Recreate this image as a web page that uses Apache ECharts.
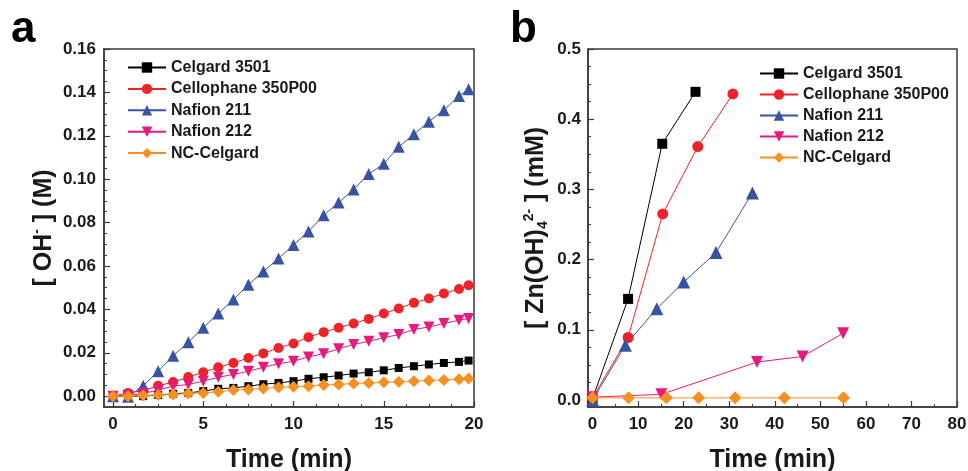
<!DOCTYPE html>
<html>
<head>
<meta charset="utf-8">
<script src="https://cdn.jsdelivr.net/npm/echarts@6/dist/echarts.min.js"></script>
<style>
  html, body { margin: 0; background: #fff; }
  #chart { width: 968px; height: 471px; }
</style>
</head>
<body>
<div id="chart"></div>
<script>
  // series names (same in both panels)
  var names = ['Celgard 3501', 'Cellophane 350P00', 'Nafion 211', 'Nafion 212', 'NC-Celgard']

  // panel a : [OH-] (M) vs time (min)
  var timeA = [0, 0.83, 1.67, 2.5, 3.33, 4.17, 5, 5.83, 6.67, 7.5, 8.33, 9.17, 10, 10.83, 11.67, 12.5, 13.33, 14.17, 15, 15.83, 16.67, 17.5, 18.33, 19.17, 19.7]
  var celgardA = [0, 0, 0, 0.0005, 0.0011, 0.0015, 0.0023, 0.0034, 0.0038, 0.0046, 0.0055, 0.0061, 0.0069, 0.0080, 0.0087, 0.0095, 0.0104, 0.0110, 0.0119, 0.0130, 0.0138, 0.0146, 0.0153, 0.0158, 0.0164]
  var cellophaneA = [0, 0.0015, 0.0025, 0.0048, 0.0065, 0.0088, 0.0110, 0.0133, 0.0153, 0.0176, 0.0197, 0.0222, 0.0243, 0.0272, 0.0295, 0.0315, 0.0335, 0.0356, 0.0381, 0.0404, 0.0430, 0.0450, 0.0473, 0.0494, 0.0511]
  var nafion211A = [0, -0.0003, 0.0048, 0.0115, 0.0186, 0.0249, 0.0315, 0.0381, 0.0445, 0.0513, 0.0575, 0.0635, 0.0697, 0.0759, 0.0834, 0.0892, 0.0953, 0.1024, 0.1071, 0.1149, 0.1207, 0.1265, 0.1318, 0.1383, 0.1415]
  var nafion212A = [0, 0.0003, 0.0012, 0.0028, 0.0046, 0.0054, 0.0069, 0.0087, 0.0100, 0.0115, 0.0133, 0.0149, 0.0161, 0.0181, 0.0196, 0.0218, 0.0238, 0.0253, 0.0269, 0.0284, 0.0307, 0.0319, 0.0335, 0.0350, 0.0358]
  var ncCelgardA = [0, 0, 0.0003, 0.0005, 0.0008, 0.0012, 0.0015, 0.0020, 0.0028, 0.0031, 0.0035, 0.0041, 0.0043, 0.0046, 0.0051, 0.0054, 0.0058, 0.0061, 0.0064, 0.0066, 0.0069, 0.0072, 0.0075, 0.0078, 0.0081]

  // panel b : [Zn(OH)4 2-] (mM) vs time (min)
  var celgardTimeB = [0, 7.8, 15.3, 22.6]
  var celgardB = [0.002, 0.144, 0.365, 0.439]
  var cellophaneTimeB = [0, 7.8, 15.4, 23.1, 30.8]
  var cellophaneB = [0.003, 0.089, 0.265, 0.361, 0.436]
  var nafion211TimeB = [0, 7.2, 14.1, 20.0, 27.1, 35.1]
  var nafion211B = [0, 0.078, 0.130, 0.168, 0.210, 0.295]
  var nafion212TimeB = [0, 15.1, 36.1, 46.1, 55.0]
  var nafion212B = [0.004, 0.008, 0.054, 0.062, 0.095]
  var ncCelgardTimeB = [0, 7.9, 16.2, 23.3, 31.3, 42.1, 55.1]
  var ncCelgardB = [0.003, 0.003, 0.003, 0.003, 0.003, 0.003, 0.003]

  // tick values
  var xTicksA = [0, 5, 10, 15, 20]
  var xMinorA = [1.25, 2.5, 3.75, 6.25, 7.5, 8.75, 11.25, 12.5, 13.75, 16.25, 17.5, 18.75]
  var yTicksA = [0, 0.02, 0.04, 0.06, 0.08, 0.10, 0.12, 0.14, 0.16]
  var yMinorA = [0.005, 0.01, 0.015, 0.025, 0.03, 0.035, 0.045, 0.05, 0.055, 0.065, 0.07, 0.075, 0.085, 0.09, 0.095, 0.105, 0.11, 0.115, 0.125, 0.13, 0.135, 0.145, 0.15, 0.155]
  var xTicksB = [0, 10, 20, 30, 40, 50, 60, 70, 80]
  var xMinorB = [5, 15, 25, 35, 45, 55, 65, 75]
  var yTicksB = [0, 0.1, 0.2, 0.3, 0.4, 0.5]
  var yMinorB = [0.025, 0.05, 0.075, 0.125, 0.15, 0.175, 0.225, 0.25, 0.275, 0.325, 0.35, 0.375, 0.425, 0.45, 0.475]

  // styles
  var colors = ['#000000', '#ee2328', '#3953a4', '#e8197c', '#f7901e']
  var symbols = ['rect', 'circle', 'triangle', 'triangle', 'diamond']
  var rotates = [0, 0, 0, 180, 0]
  var sizeA = [8, 10, 12, 11, 12]
  var sizeB = [10, 11, 13, 12, 13]
  var font = 'Liberation Sans, Arial, sans-serif'
  var ink = '#1a1a1a'
  var frame = '#3a3a3a'

  function pairs (xs, ys) {
    return xs.map(function (x, i) { return [x, ys[i]] })
  }

  function valueAxis (grid, min, max, ticks, digits, margin, name, nameGap, extra) {
    var ax = {
      type: 'value',
      gridIndex: grid,
      min: min,
      max: max,
      name: name,
      nameLocation: 'middle',
      nameGap: nameGap,
      nameTextStyle: { fontFamily: font, fontWeight: 'bold', fontSize: 25, color: ink },
      axisLine: { show: true, onZero: false, lineStyle: { color: frame, width: 1.5 } },
      axisTick: { show: true, inside: true, length: 6, customValues: ticks, lineStyle: { color: frame, width: 1.2 } },
      axisLabel: {
        customValues: ticks,
        margin: margin,
        fontFamily: font,
        fontWeight: 'bold',
        fontSize: 17,
        color: ink,
        formatter: function (v) { return v.toFixed(digits) }
      },
      splitLine: { show: false }
    }
    return Object.assign(ax, extra || {})
  }

  // second axis on the same grid that only draws the short minor ticks
  function minorAxis (grid, min, max, ticks, pos) {
    return {
      type: 'value',
      gridIndex: grid,
      min: min,
      max: max,
      position: pos,
      axisLine: { show: false, onZero: false },
      axisTick: { show: true, inside: true, length: 3, customValues: ticks, lineStyle: { color: frame, width: 1 } },
      axisLabel: { show: false },
      splitLine: { show: false }
    }
  }

  function makeSeries (i, xAxisIndex, data, size) {
    return {
      name: names[i],
      type: 'line',
      xAxisIndex: xAxisIndex,
      yAxisIndex: xAxisIndex,
      data: data,
      symbol: symbols[i],
      symbolRotate: rotates[i],
      symbolSize: size,
      color: colors[i],
      lineStyle: { width: 1, color: colors[i] },
      itemStyle: { color: colors[i] },
      animation: false
    }
  }

  var dataA = [
    pairs(timeA, celgardA),
    pairs(timeA, cellophaneA),
    pairs(timeA, nafion211A),
    pairs(timeA, nafion212A),
    pairs(timeA, ncCelgardA)
  ]
  var dataB = [
    pairs(celgardTimeB, celgardB),
    pairs(cellophaneTimeB, cellophaneB),
    pairs(nafion211TimeB, nafion211B),
    pairs(nafion212TimeB, nafion212B),
    pairs(ncCelgardTimeB, ncCelgardB)
  ]

  var series = []
  dataA.forEach(function (d, i) { series.push(makeSeries(i, 0, d, sizeA[i])) })
  dataB.forEach(function (d, i) { series.push(makeSeries(i, 2, d, sizeB[i])) })

  function legend (left, top, gap) {
    return {
      data: names,
      orient: 'vertical',
      left: left,
      top: top,
      itemWidth: 38,
      itemHeight: 13,
      itemGap: gap,
      selectedMode: false,
      textStyle: { fontFamily: font, fontWeight: 'bold', fontSize: 16, color: ink, lineHeight: 17 }
    }
  }

  var yNameRich = {
    sup: { fontFamily: font, fontWeight: 'bold', fontSize: 14, color: ink, verticalAlign: 'top', lineHeight: 14 },
    sub: { fontFamily: font, fontWeight: 'bold', fontSize: 14, color: ink, verticalAlign: 'bottom', lineHeight: 14 }
  }

  var chart = echarts.init(document.getElementById('chart'), null, { renderer: 'canvas' })
  chart.setOption({
    backgroundColor: '#ffffff',
    animation: false,
    grid: [
      { left: 104, top: 49, width: 370, height: 358, outerBoundsMode: 'none', containLabel: false, show: true, borderColor: frame, borderWidth: 1.5, backgroundColor: 'transparent' },
      { left: 588, top: 49, width: 369, height: 358, outerBoundsMode: 'none', containLabel: false, show: true, borderColor: frame, borderWidth: 1.5, backgroundColor: 'transparent' }
    ],
    xAxis: [
      valueAxis(0, -0.5, 20, xTicksA, 0, 9, 'Time (min)', 41, { position: 'bottom' }),
      minorAxis(0, -0.5, 20, xMinorA, 'bottom'),
      valueAxis(1, -1, 80, xTicksB, 0, 9, 'Time (min)', 41, { position: 'bottom' }),
      minorAxis(1, -1, 80, xMinorB, 'bottom')
    ],
    yAxis: [
      valueAxis(0, -0.005, 0.16, yTicksA, 2, 8, '[ OH{sup|-} ] (M)', 46, {
        position: 'left',
        nameRotate: 90,
        nameTextStyle: { fontFamily: font, fontWeight: 'bold', fontSize: 25, color: ink, lineHeight: 28, rich: yNameRich }
      }),
      minorAxis(0, -0.005, 0.16, yMinorA, 'left'),
      valueAxis(1, -0.01, 0.5, yTicksB, 1, 7, '[ Zn(OH){sub|4}{sup|2-} ] (mM)', 38, {
        position: 'left',
        nameRotate: 90,
        nameTextStyle: { fontFamily: font, fontWeight: 'bold', fontSize: 25, color: ink, lineHeight: 28, rich: yNameRich }
      }),
      minorAxis(1, -0.01, 0.5, yMinorB, 'left')
    ],
    legend: [
      legend(122, 54, 4.4),
      legend(754, 60, 4)
    ],
    graphic: [
      { type: 'text', left: 11, top: 8, style: { text: 'a', font: 'bold 44px ' + font, fill: '#000' } },
      { type: 'text', left: 510, top: 8, style: { text: 'b', font: 'bold 44px ' + font, fill: '#000' } }
    ],
    series: series
  })
</script>
</body>
</html>
